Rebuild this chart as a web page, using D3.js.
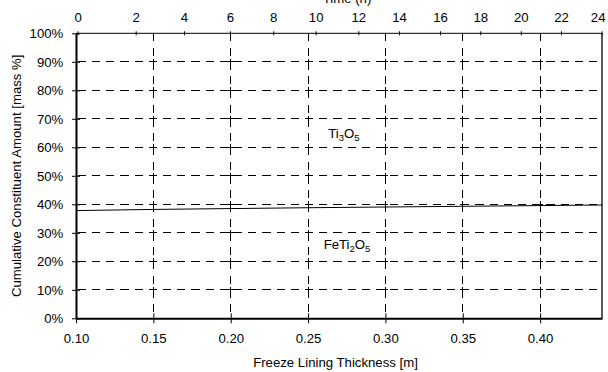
<!DOCTYPE html>
<html>
<head>
<meta charset="utf-8">
<script src="https://cdn.jsdelivr.net/npm/d3@7"></script>
<style>
  html, body { margin: 0; padding: 0; background: #fff; }
  svg { display: block; font-family: "Liberation Sans", Arial, sans-serif; }
</style>
</head>
<body>
<svg id="chart" width="608" height="372"></svg>
<script>
// Freeze lining thickness (m) and cumulative FeTi2O5 share (boundary to Ti3O5)
const thickness = [0.10, 0.15, 0.20, 0.25, 0.30, 0.35, 0.40, 0.44];
const boundary = [0.378, 0.382, 0.385, 0.388, 0.3905, 0.393, 0.3955, 0.3975];

// Bottom axis ticks
const thicknessTicks = [0.10, 0.15, 0.20, 0.25, 0.30, 0.35, 0.40];
// Left axis ticks
const amountTicks = [0, 0.1, 0.2, 0.3, 0.4, 0.5, 0.6, 0.7, 0.8, 0.9, 1.0];
// Top axis: elapsed time (h) and the lining thickness reached at that time
const timeTicks = [0, 2, 4, 6, 8, 10, 12, 14, 16, 18, 20, 22, 24];
const timeThickness = [0.101, 0.1386, 0.1698, 0.1995, 0.2275, 0.2549, 0.2825,
                       0.3088, 0.3353, 0.3613, 0.3875, 0.4135, 0.4398];

// Region labels
const regionLabels = [
  { parts: [["Ti", false], ["3", true], ["O", false], ["5", true]], x: 0.2732, y: 0.634 },
  { parts: [["FeTi", false], ["2", true], ["O", false], ["5", true]], x: 0.2752, y: 0.243 }
];

const plotLeft = 76, plotRight = 602, plotTop = 33.3, plotBottom = 318.3;
const FS = 13.2, SUB = 9.5;

const svg = d3.select("#chart");
const x = d3.scaleLinear().domain([0.10, 0.44]).range([plotLeft, plotRight]);
const y = d3.scaleLinear().domain([0, 1]).range([plotBottom, plotTop]);
const t = d3.scaleLinear().domain(timeTicks).range(timeThickness.map(x));

// Horizontal gridlines
const grid = svg.append("g");
grid.selectAll("line.h").data(amountTicks.slice(1, -1)).join("line")
  .attr("class", "h")
  .attr("x1", plotLeft).attr("x2", plotRight)
  .attr("y1", d => y(d)).attr("y2", d => y(d))
  .attr("stroke", "#000").attr("stroke-width", 1)
  .attr("stroke-dasharray", "8.3,5.9").attr("stroke-dashoffset", -1.7)
  .attr("shape-rendering", "crispEdges");

// Vertical gridlines
grid.selectAll("line.v").data(thicknessTicks.slice(1)).join("line")
  .attr("class", "v")
  .attr("x1", d => x(d)).attr("x2", d => x(d))
  .attr("y1", plotTop).attr("y2", plotBottom)
  .attr("stroke", "#000").attr("stroke-width", 1)
  .attr("stroke-dasharray", "8,6.25")
  .attr("shape-rendering", "crispEdges");

// Small crosses where gridlines meet
const cross = [];
thicknessTicks.slice(1).forEach(a => amountTicks.slice(1, -1).forEach(b => cross.push([a, b])));
grid.selectAll("path.c").data(cross).join("path")
  .attr("class", "c")
  .attr("d", d => `M${x(d[0]) - 3},${y(d[1])}H${x(d[0]) + 3}M${x(d[0])},${y(d[1]) - 3}V${y(d[1]) + 3}`)
  .attr("stroke", "#000").attr("stroke-width", 1).attr("fill", "none")
  .attr("shape-rendering", "crispEdges");

// Boundary line between the two constituents
svg.append("path")
  .datum(thickness.map((d, i) => [d, boundary[i]]))
  .attr("d", d3.line().x(d => x(d[0])).y(d => y(d[1])))
  .attr("fill", "none").attr("stroke", "#000").attr("stroke-width", 1);

// Frame on the right
svg.append("line").attr("x1", plotRight).attr("x2", plotRight).attr("y1", plotTop).attr("y2", plotBottom)
  .attr("stroke", "#000").attr("stroke-width", 1.3);

// Axes
function styleAxis(g) {
  g.select(".domain").attr("stroke", "#000");
  g.selectAll(".tick line").attr("stroke", "#000");
  g.selectAll("text").attr("fill", "#000").attr("font-size", FS)
    .attr("font-family", "Liberation Sans, Arial, sans-serif");
}

const gBottom = svg.append("g").attr("transform", `translate(0,${plotBottom})`)
  .call(d3.axisBottom(x).tickValues(thicknessTicks).tickFormat(d3.format(".2f"))
    .tickSizeInner(5).tickSizeOuter(0).tickPadding(10.6));
styleAxis(gBottom);
gBottom.selectAll(".tick line").attr("y1", -5).attr("y2", 5);
gBottom.select(".domain").attr("stroke-width", 2);

const gLeft = svg.append("g").attr("transform", `translate(${plotLeft},0)`)
  .call(d3.axisLeft(y).tickValues(amountTicks).tickFormat(d3.format(".0%"))
    .tickSizeInner(4).tickSizeOuter(0).tickPadding(8.7));
styleAxis(gLeft);
gLeft.selectAll(".tick line").attr("x1", 4).attr("x2", -4);
gLeft.select(".domain").attr("stroke-width", 2);

const gTop = svg.append("g").attr("transform", `translate(0,${plotTop})`)
  .call(d3.axisTop(t).tickValues(timeTicks).tickFormat(d3.format("d"))
    .tickSizeInner(2).tickSizeOuter(0).tickPadding(9.6));
styleAxis(gTop);
gTop.selectAll(".tick line").attr("y1", 2).attr("y2", -2);
gTop.select(".domain").attr("d", `M${plotLeft},0H${plotRight}`);
// keep the last time label inside the frame edge
gTop.selectAll(".tick text").filter(d => d === timeTicks[timeTicks.length - 1]).attr("x", -4);

// Axis titles
svg.append("text").attr("x", 335.5).attr("y", 366.5)
  .attr("text-anchor", "middle").attr("font-size", FS).text("Freeze Lining Thickness [m]");

svg.append("text").attr("x", 347).attr("y", 2.5)
  .attr("text-anchor", "middle").attr("font-size", FS).text("Time (h)");

svg.append("text")
  .attr("transform", `translate(20.5,${(plotTop + plotBottom) / 2}) rotate(-90)`)
  .attr("text-anchor", "middle").attr("font-size", FS)
  .text("Cumulative Constituent Amount [mass %]");

// Region labels with subscripts
regionLabels.forEach(lbl => {
  const txt = svg.append("text").attr("x", x(lbl.x)).attr("y", y(lbl.y))
    .attr("text-anchor", "middle").attr("font-size", FS);
  lbl.parts.forEach(([s, sub], i) => {
    const prevSub = i > 0 && lbl.parts[i - 1][1];
    txt.append("tspan")
      .attr("font-size", sub ? SUB : FS)
      .attr("dy", sub ? 3 : (prevSub ? -3 : 0))
      .text(s);
  });
});
</script>
</body>
</html>
